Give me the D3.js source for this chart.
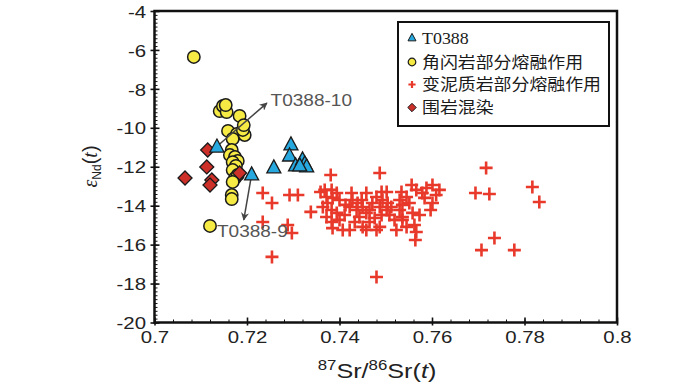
<!DOCTYPE html>
<html>
<head>
<meta charset="UTF-8">
<title>Sr-Nd</title>
<style>
  body { margin: 0; background: #fff; }
  svg { display: block; }
  .tick text { font-family: 'Liberation Sans', Arial, sans-serif; font-size: 17px; fill: #222; }
  .tick line { stroke: #111; }
  .domain { display: none; }
</style>
</head>
<body>
<svg id="chart"></svg>
<script src="https://d3js.org/d3.v7.min.js"></script>
<script>
// axis ticks
const xTickLabels = ["0.7", "0.72", "0.74", "0.76", "0.78", "0.8"];
const yTickLabels = ["-20", "-18", "-16", "-14", "-12", "-10", "-8", "-6", "-4"];

// legend
const seriesNames = ["T0388", "角闪岩部分熔融作用", "变泥质岩部分熔融作用", "围岩混染"];

// [87Sr/86Sr(t), eNd(t)]
const t0388 = [
  [0.7135, -10.99], [0.7210, -12.42], [0.7258, -12.06], [0.7295, -10.88], [0.7292, -11.45],
  [0.7305, -11.96], [0.7320, -11.65], [0.7325, -11.86], [0.7329, -12.01], [0.7314, -11.96]
];
const amphibolite = [
  [0.7085, -6.36], [0.7141, -9.14], [0.7148, -8.88], [0.7156, -9.19], [0.7184, -9.39],
  [0.7159, -10.16], [0.7178, -10.32], [0.7195, -10.37], [0.7169, -10.57], [0.7191, -10.11],
  [0.7167, -11.14], [0.7163, -11.40], [0.7174, -11.50], [0.7180, -11.70], [0.7169, -11.76],
  [0.7176, -11.96], [0.7169, -12.17], [0.7174, -12.58], [0.7180, -12.42], [0.7169, -12.78],
  [0.7167, -13.45], [0.7167, -13.66], [0.7120, -15.04], [0.7193, -9.86], [0.7154, -8.83]
];
const metapelite = [
  [0.7234, -13.35], [0.7254, -13.86], [0.7292, -13.45], [0.7310, -13.45], [0.7234, -14.84],
  [0.7288, -14.99], [0.7297, -15.40], [0.7254, -16.63], [0.7381, -12.42], [0.7487, -12.32],
  [0.7480, -17.66], [0.7338, -14.32], [0.7717, -12.06], [0.7694, -13.35], [0.7724, -13.40],
  [0.7817, -13.04], [0.7832, -13.81], [0.7735, -15.66], [0.7707, -16.28], [0.7778, -16.28],
  [0.7359, -13.30], [0.7368, -13.19], [0.7383, -13.19], [0.7394, -13.35], [0.7372, -13.55],
  [0.7385, -13.60], [0.7400, -13.71], [0.7374, -13.86], [0.7364, -14.07], [0.7383, -14.22],
  [0.7394, -14.37], [0.7372, -14.58], [0.7383, -14.84], [0.7385, -15.15], [0.7407, -15.25],
  [0.7422, -15.25], [0.7426, -13.35], [0.7428, -13.71], [0.7422, -14.07], [0.7437, -14.22],
  [0.7439, -13.86], [0.7448, -13.71], [0.7450, -14.07], [0.7458, -13.35], [0.7443, -14.58],
  [0.7458, -14.37], [0.7465, -14.22], [0.7471, -13.86], [0.7480, -13.55], [0.7491, -13.30],
  [0.7493, -13.71], [0.7487, -14.07], [0.7502, -14.22], [0.7491, -14.48], [0.7476, -14.63],
  [0.7450, -15.09], [0.7458, -15.25], [0.7480, -15.25], [0.7487, -15.09], [0.7504, -13.86],
  [0.7508, -14.48], [0.7519, -14.73], [0.7530, -14.22], [0.7530, -13.71], [0.7534, -13.30],
  [0.7545, -13.55], [0.7536, -13.96], [0.7551, -13.86], [0.7556, -12.94], [0.7566, -13.19],
  [0.7579, -13.35], [0.7588, -13.09], [0.7558, -14.37], [0.7536, -14.58], [0.7562, -14.99],
  [0.7566, -15.35], [0.7523, -15.25], [0.7545, -15.09], [0.7601, -12.94], [0.7616, -13.19],
  [0.7584, -13.60], [0.7601, -13.86], [0.7609, -13.45], [0.7597, -14.22], [0.7573, -14.48],
  [0.7564, -15.76], [0.7536, -14.73], [0.7502, -13.30], [0.7411, -14.48], [0.7433, -14.84],
  [0.7465, -14.84], [0.7512, -14.07], [0.7413, -13.96], [0.7400, -14.73]
];
const wallRock = [
  [0.7115, -11.14], [0.7113, -12.01], [0.7066, -12.58], [0.7124, -12.68], [0.7120, -12.94], [0.7184, -12.32]
];

// sample labels: [label, arrow from, arrow to, text anchor point]
const notes = [
  ["T0388-10", [0.7141, -10.83], [0.7243, -8.73], [0.7251, -8.55]],
  ["T0388-9", [0.7208, -12.68], [0.7193, -14.73], [0.7135, -15.30]]
];

const width = 700, height = 389;
const svg = d3.select("#chart").attr("width", width).attr("height", height);

const x = d3.scaleLinear().domain([0.7, 0.8]).range([154.5, 617]);
const y = d3.scaleLinear().domain([-20, -4]).range([322.5, 11]);
const sx = 1.2; // glyphs in the source are a bit wide

const xTicks = xTickLabels.map(Number);
const yTicks = yTickLabels.map(Number);
const xMinor = d3.range(0, 26).map(i => 0.7 + i * 0.004);
const yMinor = d3.range(0, 81).map(i => -20 + i * 0.2);

// minor ticks (inward)
svg.append("g").attr("transform", "translate(0,322.5)")
    .call(d3.axisBottom(x).tickValues(xMinor).tickSize(-3).tickFormat(""));
svg.append("g").attr("transform", "translate(154.5,0)")
    .call(d3.axisLeft(y).tickValues(yMinor).tickSize(-3).tickFormat(""));

// major ticks, inward part
svg.append("g").attr("transform", "translate(0,322.5)")
    .call(d3.axisBottom(x).tickValues(xTicks).tickSize(-5).tickFormat(""))
    .selectAll("line").attr("stroke-width", 1.6);
svg.append("g").attr("transform", "translate(154.5,0)")
    .call(d3.axisLeft(y).tickValues(yTicks).tickSize(-5).tickFormat(""))
    .selectAll("line").attr("stroke-width", 1.6);

// major ticks outward + labels
let xAxis = svg.append("g").attr("transform", "translate(0,322.5)")
    .call(d3.axisBottom(x).tickValues(xTicks).tickSize(3).tickFormat((d, i) => xTickLabels[i]));
xAxis.selectAll("line").attr("stroke-width", 1.6);
xAxis.selectAll("text").attr("y", 21).attr("dy", 0).attr("transform", `scale(${sx},1)`);

let yAxis = svg.append("g").attr("transform", "translate(154.5,0)")
    .call(d3.axisLeft(y).tickValues(yTicks).tickSize(4).tickFormat((d, i) => yTickLabels[i]));
yAxis.selectAll("line").attr("stroke-width", 1.6);
yAxis.selectAll("text").attr("x", -8.5 / sx).attr("dy", "0.36em").attr("transform", `scale(${sx},1)`);

// frame
svg.append("rect")
    .attr("x", x(0.7)).attr("y", y(-4))
    .attr("width", x(0.8) - x(0.7)).attr("height", y(-20) - y(-4))
    .attr("fill", "none").attr("stroke", "#111").attr("stroke-width", 2.5);

// axis titles
let xt = svg.append("text")
    .attr("transform", `translate(377,378) scale(${sx},1)`)
    .attr("text-anchor", "middle")
    .style("font-family", "'Liberation Sans', Arial, sans-serif")
    .style("font-size", "21px").attr("fill", "#222");
xt.append("tspan").text("87").attr("font-size", "14px").attr("dy", -8);
xt.append("tspan").text("Sr/").attr("dy", 8);
xt.append("tspan").text("86").attr("font-size", "14px").attr("dy", -8);
xt.append("tspan").text("Sr(").attr("dy", 8);
xt.append("tspan").text("t").style("font-style", "italic");
xt.append("tspan").text(")");

let yt = svg.append("text")
    .attr("transform", "translate(97,166.5) rotate(-90)")
    .attr("text-anchor", "middle")
    .style("font-family", "'Liberation Sans', Arial, sans-serif")
    .style("font-size", "20px").attr("fill", "#222");
yt.append("tspan").text("ε").style("font-family", "'Liberation Serif', serif").style("font-style", "italic");
yt.append("tspan").text("Nd").attr("font-size", "12px").attr("dy", 4);
yt.append("tspan").text("(").attr("dy", -4);
yt.append("tspan").text("t").style("font-family", "'Liberation Serif', serif").style("font-style", "italic");
yt.append("tspan").text(")");

// symbols
const crossPath = r => `M${-r},0H${r}M0,${-r}V${r}`;
const triPath = (w, h) => `M0,${-h * 0.62}L${w / 2},${h * 0.38}L${-w / 2},${h * 0.38}Z`;
const diaPath = r => `M0,${-r}L${r},0L0,${r}L${-r},0Z`;

svg.append("g").selectAll("path").data(metapelite).join("path")
    .attr("transform", d => `translate(${x(d[0])},${y(d[1])})`)
    .attr("d", crossPath(6.5))
    .attr("stroke", "#e8392b").attr("stroke-width", 2.6).attr("fill", "none");

svg.append("g").selectAll("circle").data(amphibolite).join("circle")
    .attr("cx", d => x(d[0])).attr("cy", d => y(d[1])).attr("r", 6.2)
    .attr("fill", "#f6ea45").attr("stroke", "#1a1a1a").attr("stroke-width", 1.5);

svg.append("g").selectAll("path").data(wallRock).join("path")
    .attr("transform", d => `translate(${x(d[0])},${y(d[1])})`)
    .attr("d", diaPath(7))
    .attr("fill", "#cc3029").attr("stroke", "#1a1a1a").attr("stroke-width", 1.3);

// arrows
svg.append("defs").append("marker")
    .attr("id", "head").attr("viewBox", "0 0 10 10").attr("refX", 9).attr("refY", 5)
    .attr("markerWidth", 9).attr("markerHeight", 8).attr("markerUnits", "userSpaceOnUse")
    .attr("orient", "auto")
    .append("path").attr("d", "M0,0L10,5L0,10L3,5Z").attr("fill", "#444");

svg.append("g").selectAll("line").data(notes).join("line")
    .attr("x1", d => x(d[1][0])).attr("y1", d => y(d[1][1]))
    .attr("x2", d => x(d[2][0])).attr("y2", d => y(d[2][1]))
    .attr("stroke", "#444").attr("stroke-width", 1.5).attr("marker-end", "url(#head)");

svg.append("g").selectAll("path").data(t0388).join("path")
    .attr("transform", d => `translate(${x(d[0])},${y(d[1])})`)
    .attr("d", triPath(14, 13))
    .attr("fill", "#27a9e0").attr("stroke", "#1a1a1a").attr("stroke-width", 1.3);

svg.append("g").selectAll("text").data(notes).join("text")
    .attr("transform", d => `translate(${x(d[3][0])},${y(d[3][1])}) scale(1.12,1)`)
    .attr("dy", "0.36em")
    .style("font-family", "'Liberation Sans', Arial, sans-serif")
    .style("font-size", "17px").attr("fill", "#555")
    .text(d => d[0]);

// legend
const legend = svg.append("g");
legend.append("rect")
    .attr("x", 398).attr("y", 22).attr("width", 211).attr("height", 104)
    .attr("fill", "#fff").attr("stroke", "#111").attr("stroke-width", 2);

const rowY = [38, 62, 84.5, 107.5];
const rows = legend.selectAll("g.row").data(seriesNames).join("g")
    .attr("class", "row")
    .attr("transform", (d, i) => `translate(412,${rowY[i]})`);

rows.each(function (d, i) {
    const g = d3.select(this);
    if (i === 0) g.append("path").attr("d", triPath(8, 7.5)).attr("fill", "#27a9e0").attr("stroke", "#1a1a1a").attr("stroke-width", 1);
    if (i === 1) g.append("circle").attr("r", 3.8).attr("fill", "#f6ea45").attr("stroke", "#1a1a1a").attr("stroke-width", 1.2);
    if (i === 2) g.append("path").attr("d", crossPath(3.6)).attr("stroke", "#e8392b").attr("stroke-width", 2.2);
    if (i === 3) g.append("path").attr("d", diaPath(4.2)).attr("fill", "#cc3029").attr("stroke", "#1a1a1a").attr("stroke-width", 1);
});

rows.append("text")
    .attr("transform", "translate(10,0) scale(1.12,1)")
    .attr("dy", "0.36em")
    .style("font-family", (d, i) => i === 0 ? "'Liberation Serif', serif" : "'Noto Sans CJK SC', sans-serif")
    .style("font-size", "16px").attr("fill", "#1a1a1a")
    .text(d => d);
</script>
</body>
</html>
